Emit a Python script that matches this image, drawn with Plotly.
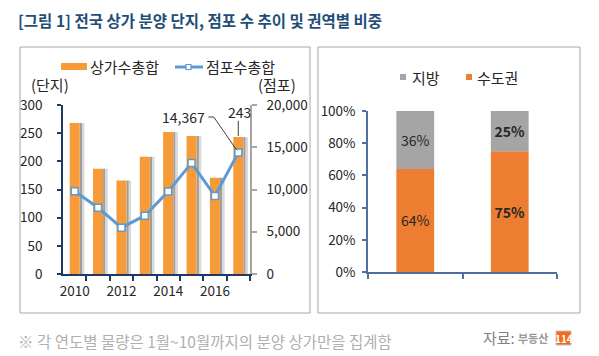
import plotly.graph_objects as go

# ---- data ----
years = [2010, 2011, 2012, 2013, 2014, 2015, 2016, 2017]
complexes = [268, 187, 166, 208, 252, 245, 171, 243]          # 상가수총합 (단지)
stores = [9800, 7850, 5480, 6900, 9750, 13150, 9230, 14367]   # 점포수총합 (점포)
year_ticks = [2010, 2012, 2014, 2016]
year_ticktext = ["2010", "2012", "2014", "2016"]

regions = ["전국1", "전국2"]
capital = [64, 75]     # 수도권
local = [36, 25]       # 지방
capital_text = ["64%", "<b>75%</b>"]
local_text = ["36%", "<b>25%</b>"]
pct_ticks = [0, 20, 40, 60, 80, 100]

W, H = 599, 356
FONT = "Noto Sans CJK KR"
ORANGE = "#F79A38"
BLUE = "#5B9BD5"
NAVY = "#1F3864"
GRAY_BAR = "#A5A5A5"
ORANGE2 = "#ED7D31"
TXT = "#262626"


def px(x):
    return x / W


def py(y):
    return 1 - y / H


fig = go.Figure()

# shadows for left bars
fig.add_trace(go.Bar(x=years, y=complexes, width=0.1, offset=0.215,
                     marker=dict(color="#9E9E9E", line=dict(width=0)),
                     xaxis="x", yaxis="y", showlegend=False, hoverinfo="skip"))
fig.add_trace(go.Bar(x=years, y=complexes, width=0.1, offset=0.315,
                     marker=dict(color="#D9D9D9", line=dict(width=0)),
                     xaxis="x", yaxis="y", showlegend=False, hoverinfo="skip"))
# main bars
fig.add_trace(go.Bar(x=years, y=complexes, width=0.43, offset=-0.215,
                     marker=dict(color=ORANGE, line=dict(width=0)),
                     xaxis="x", yaxis="y", name="상가수총합", showlegend=False))
# line
fig.add_trace(go.Scatter(x=years, y=stores, mode="lines+markers",
                         line=dict(color=BLUE, width=3),
                         marker=dict(symbol="square", size=7, color="white",
                                     line=dict(color=BLUE, width=1.5)),
                         xaxis="x", yaxis="y2", name="점포수총합", showlegend=False))

# right chart stacked bars
fig.add_trace(go.Bar(x=[0, 1], y=capital, width=0.4, marker=dict(color=ORANGE2, line=dict(width=0)),
                     text=capital_text, textposition="inside", insidetextanchor="middle",
                     textfont=dict(family=FONT, size=14, color=TXT),
                     xaxis="x3", yaxis="y3", showlegend=False))
fig.add_trace(go.Bar(x=[0, 1], y=local, base=capital, width=0.4, marker=dict(color=GRAY_BAR, line=dict(width=0)),
                     text=local_text, textposition="inside", insidetextanchor="middle",
                     textfont=dict(family=FONT, size=14, color=TXT),
                     xaxis="x3", yaxis="y3", showlegend=False))

tickfont = dict(family=FONT, size=13.5, color=TXT)

fig.update_layout(
    template="none",
    width=W, height=H, margin=dict(l=0, r=0, t=0, b=0, pad=0, autoexpand=False),
    paper_bgcolor="white", plot_bgcolor="rgba(0,0,0,0)",
    barmode="overlay", font=dict(family=FONT), showlegend=False,
    xaxis=dict(domain=[px(63), px(250)], range=[2009.5, 2017.5], automargin=False,
               tickmode="array", tickvals=year_ticks, ticktext=year_ticktext,
               ticks="", tickfont=tickfont, showgrid=False, zeroline=False, ticklabelstandoff=4,
               showline=True, linecolor=NAVY, linewidth=1.5, anchor="y",
               minor=dict(tickmode="array", tickvals=[y + 0.5 for y in years],
                          ticks="outside", ticklen=5, tickcolor=NAVY, tickwidth=1.5, showgrid=False)),
    yaxis=dict(domain=[py(274), py(105)], range=[0, 300], dtick=50, automargin=False,
               ticks="outside", ticklen=4, tickcolor=NAVY, tickwidth=1.5, ticklabelstandoff=12,
               showline=True, linecolor=NAVY, linewidth=1.5, showgrid=False, zeroline=False,
               tickfont=tickfont, anchor="x"),
    yaxis2=dict(range=[0, 20000], dtick=5000, tickformat=",d", overlaying="y", side="right",
                automargin=False, ticklabelstandoff=7,
                ticks="outside", ticklen=5, tickcolor="#A6A6A6", tickwidth=1.5,
                showline=True, linecolor="#A6A6A6", linewidth=1.5, showgrid=False, zeroline=False,
                tickfont=tickfont, anchor="x"),
    xaxis3=dict(domain=[px(368), px(557)], range=[-0.5, 1.5], automargin=False,
                tickmode="array", tickvals=[-0.5, 0.5, 1.5], ticktext=["", "", ""],
                ticks="outside", ticklen=5, tickcolor="#4F6F9F", tickwidth=1.5,
                showline=True, linecolor="#4F6F9F", linewidth=1.5, showgrid=False, zeroline=False,
                anchor="y3"),
    yaxis3=dict(domain=[py(272), py(111)], range=[0, 100], automargin=False,
                tickmode="array", tickvals=pct_ticks, ticktext=[f"{v}%" for v in pct_ticks],
                ticks="outside", ticklen=4, tickcolor="#4F6F9F", tickwidth=1.5, ticklabelstandoff=4,
                showline=True, linecolor="#4F6F9F", linewidth=1.5, showgrid=False, zeroline=False,
                tickfont=tickfont, anchor="x3"),
)

shapes = []
annots = []

# panel boxes
shapes.append(dict(type="rect", xref="paper", yref="paper", x0=px(20), x1=px(310), y0=py(313), y1=py(47),
                   line=dict(color="#A6A6A6", width=1)))
shapes.append(dict(type="rect", xref="paper", yref="paper", x0=px(318), x1=px(580), y0=py(313), y1=py(47),
                   line=dict(color="#A6A6A6", width=1)))

# left legend
shapes.append(dict(type="rect", xref="paper", yref="paper", x0=px(61), x1=px(87), y0=py(70), y1=py(63),
                   fillcolor=ORANGE, line=dict(width=0)))
annots.append(dict(x=px(88), y=py(66), xref="paper", yref="paper", text="상가수총합", showarrow=False,
                   xanchor="left", yanchor="middle", font=dict(family=FONT, size=15, color=TXT)))
shapes.append(dict(type="line", xref="paper", yref="paper", x0=px(175), x1=px(203), y0=py(67), y1=py(67),
                   line=dict(color=BLUE, width=3)))
shapes.append(dict(type="rect", xref="paper", yref="paper", x0=px(186), x1=px(191), y0=py(69.5), y1=py(64.5),
                   fillcolor="white", line=dict(color=BLUE, width=1.2)))
annots.append(dict(x=px(204), y=py(66), xref="paper", yref="paper", text="점포수총합", showarrow=False,
                   xanchor="left", yanchor="middle", font=dict(family=FONT, size=15, color=TXT)))

# axis unit titles
annots.append(dict(x=px(29), y=py(85), xref="paper", yref="paper", text="(단지)", showarrow=False,
                   xanchor="left", yanchor="middle", font=dict(family=FONT, size=15, color=TXT)))
annots.append(dict(x=px(256), y=py(85), xref="paper", yref="paper", text="(점포)", showarrow=False,
                   xanchor="left", yanchor="middle", font=dict(family=FONT, size=15, color=TXT)))

# data callouts
annots.append(dict(x=2015.66, y=18580, xref="x", yref="y2", text=f"{stores[-1]:,}", showarrow=False,
                   xanchor="right", yanchor="middle", font=dict(family=FONT, size=14, color=TXT)))
shapes.append(dict(type="line", xref="x", yref="y2", x0=2015.72, x1=2015.95, y0=18580, y1=18580,
                   line=dict(color="#404040", width=1)))
shapes.append(dict(type="line", xref="x", yref="y2", x0=2015.95, x1=2016.93, y0=18580, y1=stores[-1] + 300,
                   line=dict(color="#404040", width=1)))
annots.append(dict(x=2017.05, y=287, xref="x", yref="y", text=str(complexes[-1]), showarrow=False,
                   xanchor="center", yanchor="middle", font=dict(family=FONT, size=14, color=TXT)))
shapes.append(dict(type="line", xref="x", yref="y", x0=2017.0, x1=2017.0, y0=272, y1=complexes[-1] + 2,
                   line=dict(color="#404040", width=1)))

# right legend
shapes.append(dict(type="rect", xref="paper", yref="paper", x0=px(400), x1=px(406), y0=py(80), y1=py(74),
                   fillcolor=GRAY_BAR, line=dict(width=0)))
annots.append(dict(x=px(410), y=py(77), xref="paper", yref="paper", text="지방", showarrow=False,
                   xanchor="left", yanchor="middle", font=dict(family=FONT, size=15, color=TXT)))
shapes.append(dict(type="rect", xref="paper", yref="paper", x0=px(466), x1=px(472), y0=py(80), y1=py(74),
                   fillcolor=ORANGE2, line=dict(width=0)))
annots.append(dict(x=px(475), y=py(77), xref="paper", yref="paper", text="수도권", showarrow=False,
                   xanchor="left", yanchor="middle", font=dict(family=FONT, size=15, color=TXT)))

# title
annots.append(dict(x=px(16), y=py(20), xref="paper", yref="paper",
                   text="<b>[그림 1] 전국 상가 분양 단지, 점포 수 추이 및 권역별 비중</b>", showarrow=False,
                   xanchor="left", yanchor="middle", font=dict(family=FONT, size=15.5, color="#1F4E79")))

# footnote
annots.append(dict(x=px(16), y=py(341), xref="paper", yref="paper",
                   text="※ 각 연도별 물량은 1월~10월까지의 분양 상가만을 집계함", showarrow=False,
                   xanchor="left", yanchor="middle", font=dict(family=FONT, size=15.5, color="#B0B0B0")))
annots.append(dict(x=px(481), y=py(337), xref="paper", yref="paper", text="자료:", showarrow=False,
                   xanchor="left", yanchor="middle", font=dict(family=FONT, size=15, color="#808080")))
annots.append(dict(x=px(516), y=py(338), xref="paper", yref="paper", text="<b>부동산</b>", showarrow=False,
                   xanchor="left", yanchor="middle", font=dict(family=FONT, size=11, color="#9A9A9A")))
shapes.append(dict(type="rect", xref="paper", yref="paper", x0=px(556), x1=px(571), y0=py(345), y1=py(331),
                   fillcolor="#F26A1B", line=dict(color="#C0C0C0", width=1)))
annots.append(dict(x=px(563.5), y=py(338), xref="paper", yref="paper", text="<b>114</b>", showarrow=False,
                   xanchor="center", yanchor="middle", font=dict(family=FONT, size=10, color="white")))

fig.update_layout(shapes=shapes, annotations=annots)
fig.write_html("out.html", config={"displayModeBar": False},
               post_script="document.body.style.margin='0';")
